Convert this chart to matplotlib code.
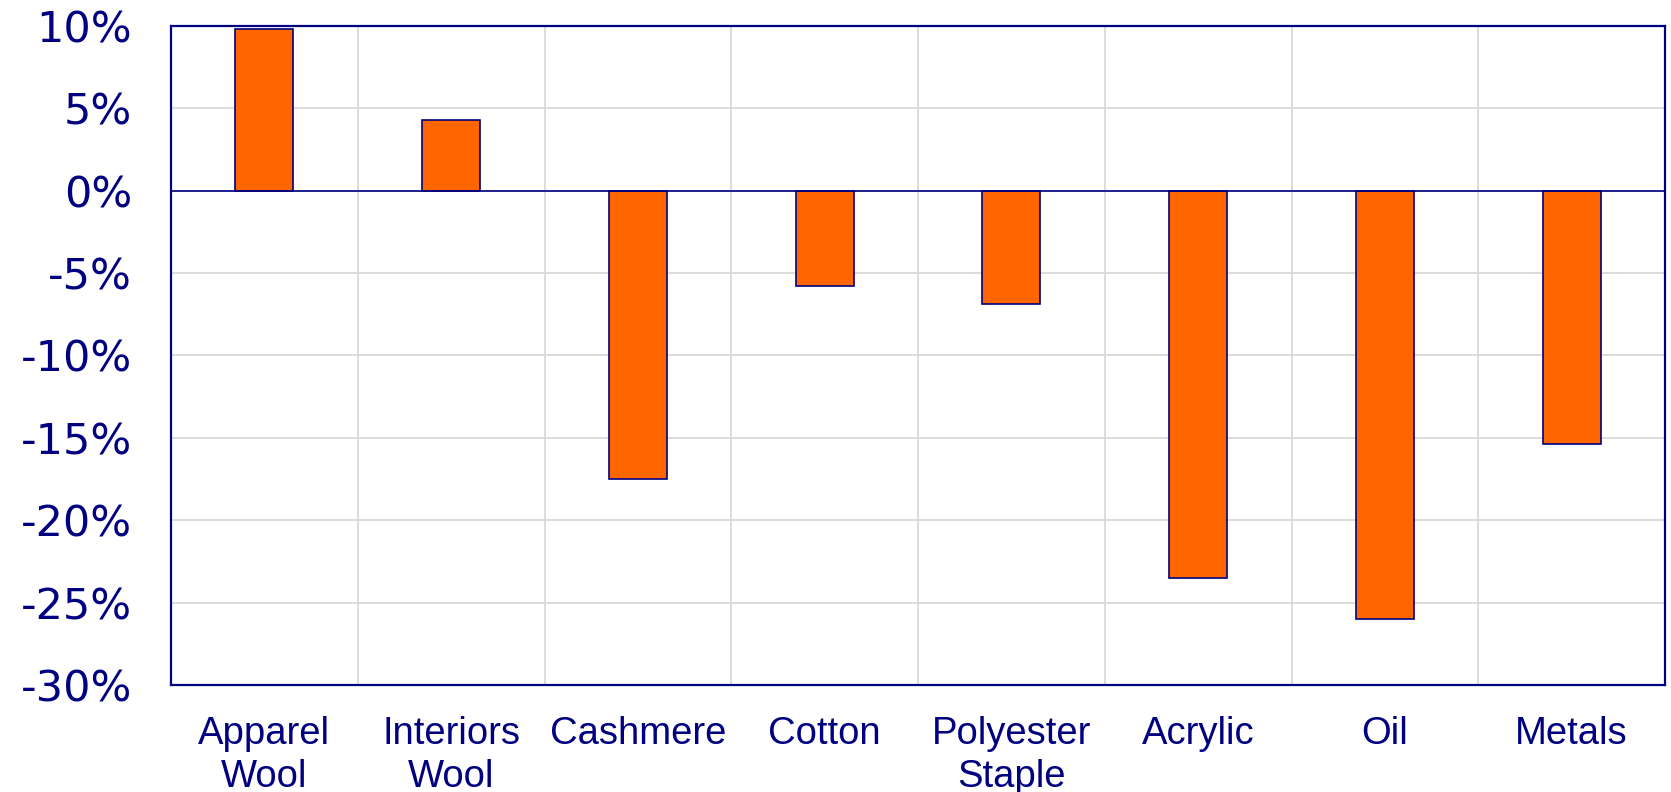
import matplotlib.pyplot as plt
import numpy as np

categories = ['Apparel\nWool', 'Interiors\nWool', 'Cashmere', 'Cotton',
              'Polyester\nStaple', 'Acrylic', 'Oil', 'Metals']
changes = [9.8, 4.3, -17.5, -5.8, -6.9, -23.5, -26.0, -15.4]
yticks = [10, 5, 0, -5, -10, -15, -20, -25, -30]

navy = '#000080'
orange = '#FF6600'

fig = plt.figure(figsize=(16.71, 7.92), dpi=100)
ax = fig.add_axes([171 / 1671, 1 - 685 / 792, (1665 - 171) / 1671, (685 - 25.7) / 792])

x = np.arange(len(categories))
ax.bar(x, changes, width=0.31, color=orange, edgecolor=navy, linewidth=1.2, zorder=3)
ax.axhline(0, color=navy, linewidth=1.2, zorder=4)

ax.set_xlim(-0.5, len(categories) - 0.5)
ax.set_ylim(-30, 10)
ax.set_yticks(yticks)
ax.set_yticklabels(['%d%%' % v for v in yticks], fontsize=31, color=navy,
                   family='DejaVu Sans')
ax.set_xticks(x)
ax.set_xticklabels(categories, fontsize=27.5, color=navy, family='Liberation Sans',
                   linespacing=1.25, va='top')

ax.set_xticks(np.arange(0.5, len(categories) - 0.5), minor=True)
ax.grid(True, which='minor', axis='x', color='#D9D9D9', linewidth=1.3, zorder=0)
ax.grid(True, which='major', axis='y', color='#D9D9D9', linewidth=1.3, zorder=0)
ax.tick_params(axis='both', which='both', length=0)
ax.tick_params(axis='x', pad=22)
ax.tick_params(axis='y', pad=28)

for s in ax.spines.values():
    s.set_color(navy)
    s.set_linewidth(1.6)

fig.savefig('out.png', dpi=100)
